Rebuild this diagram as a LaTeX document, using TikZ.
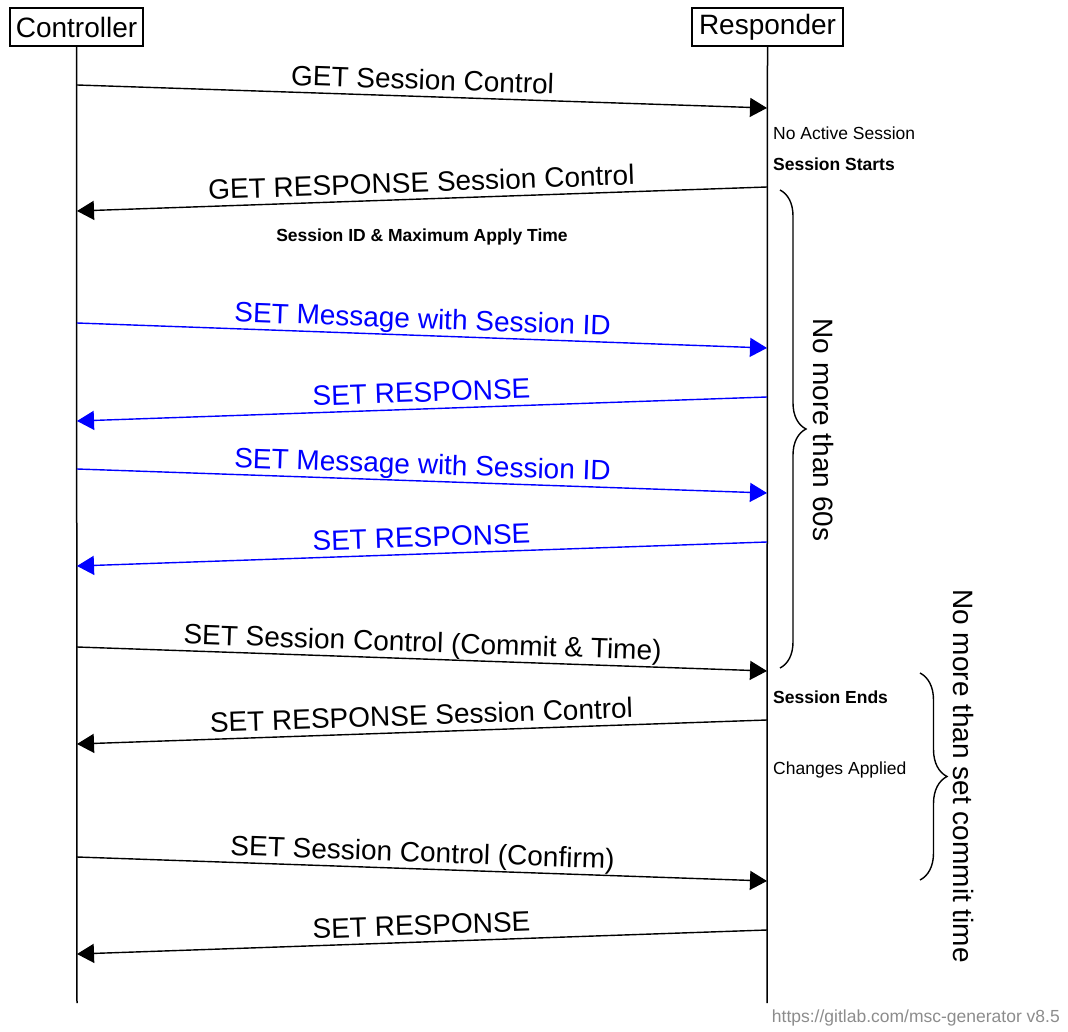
\documentclass[tikz,border=0pt]{standalone}
\usepackage{fontspec}
\setmainfont{Liberation Sans}
\usetikzlibrary{arrows.meta,decorations.pathreplacing}
\begin{document}
\begin{tikzpicture}[x=1pt,y=-1pt,
  entity/.style={draw, line width=1.4pt, inner xsep=6pt, inner ysep=0pt, minimum height=38pt, font=\fontsize{28}{32}\selectfont},
  life/.style={line width=1.5pt, draw=black},
  msg/.style={line width=1.4pt, -{Triangle[length=17pt,width=19pt]}},
  bluemsg/.style={msg, draw=blue, blue},
  lbl/.style={sloped, anchor=base, yshift=7pt, inner sep=0pt, font=\fontsize{28}{32}\selectfont},
  note/.style={anchor=west, inner sep=0pt, font=\fontsize{17.5}{21}\selectfont},
  boldnote/.style={note, font=\fontsize{17.5}{21}\selectfont\bfseries},
  bracestyle/.style={line width=1.4pt, decorate, decoration={brace, amplitude=#1}},
  vlabel/.style={rotate=-90, inner sep=0pt, font=\fontsize{28}{32}\selectfont},
]
\useasboundingbox (0,0) rectangle (1068,1032);

% entities
\node[entity] (ctrl) at (76.5,27) {Controller};
\node[entity, inner xsep=7pt] (resp) at (767.5,27) {Responder};
\coordinate (ctrlend) at (77,1003);
\coordinate (respend) at (767,1003);
\draw[life] (ctrl.south) -- (ctrlend);
\draw[life] (resp.south) -- (respend);

% message end points
\coordinate (c1) at (77,85);   \coordinate (r1) at (767,108);
\coordinate (r2) at (767,187); \coordinate (c2) at (77,211);
\coordinate (c3) at (77,323);  \coordinate (r3) at (767,348);
\coordinate (r4) at (767,397); \coordinate (c4) at (77,421);
\coordinate (c5) at (77,469);  \coordinate (r5) at (767,493);
\coordinate (r6) at (767,542); \coordinate (c6) at (77,566);
\coordinate (c7) at (77,647);  \coordinate (r7) at (767,671);
\coordinate (r8) at (767,720); \coordinate (c8) at (77,744);
\coordinate (c9) at (77,857);  \coordinate (r9) at (767,881);
\coordinate (r10) at (767,930); \coordinate (c10) at (77,954);

% messages
\draw[msg] (c1) -- node[lbl] {GET Session Control} (r1);
\draw[msg] (r2) -- node[lbl] {GET RESPONSE Session Control} (c2);
\draw[bluemsg] (c3) -- node[lbl, text=blue] {SET Message with Session ID} (r3);
\draw[bluemsg] (r4) -- node[lbl, text=blue] {SET RESPONSE} (c4);
\draw[bluemsg] (c5) -- node[lbl, text=blue] {SET Message with Session ID} (r5);
\draw[bluemsg] (r6) -- node[lbl, text=blue] {SET RESPONSE} (c6);
\draw[msg] (c7) -- node[lbl] {SET Session Control (Commit \& Time)} (r7);
\draw[msg] (r8) -- node[lbl] {SET RESPONSE Session Control} (c8);
\draw[msg] (c9) -- node[lbl] {SET Session Control (Confirm)} (r9);
\draw[msg] (r10) -- node[lbl] {SET RESPONSE} (c10);

% notes
\node[boldnote, anchor=center] (sid) at (422,237) {Session ID \& Maximum Apply Time};
\node[note] (noactive) at (773,133) {No Active Session};
\node[boldnote] (starts) at (773,164) {Session Starts};
\node[boldnote] (ends) at (773,697) {Session Ends};
\node[note] (applied) at (773,770) {Changes Applied};

% braces
\coordinate (b1t) at (780,190);
\coordinate (b1b) at (780,668);
\draw[bracestyle=26pt] (b1t) -- (b1b);
\node[vlabel] (l60) at (823,430) {No more than 60s};
\coordinate (b2t) at (920,673);
\coordinate (b2b) at (920,880);
\draw[bracestyle=27pt] (b2t) -- (b2b);
\node[vlabel] (lcommit) at (963,776) {No more than set commit time};

% footer
\node[anchor=east, inner sep=0pt, text=black!45, font=\fontsize{17.5}{21}\selectfont] (footer) at (1060,1018) {https://gitlab.com/msc-generator v8.5};
\end{tikzpicture}
\end{document}
